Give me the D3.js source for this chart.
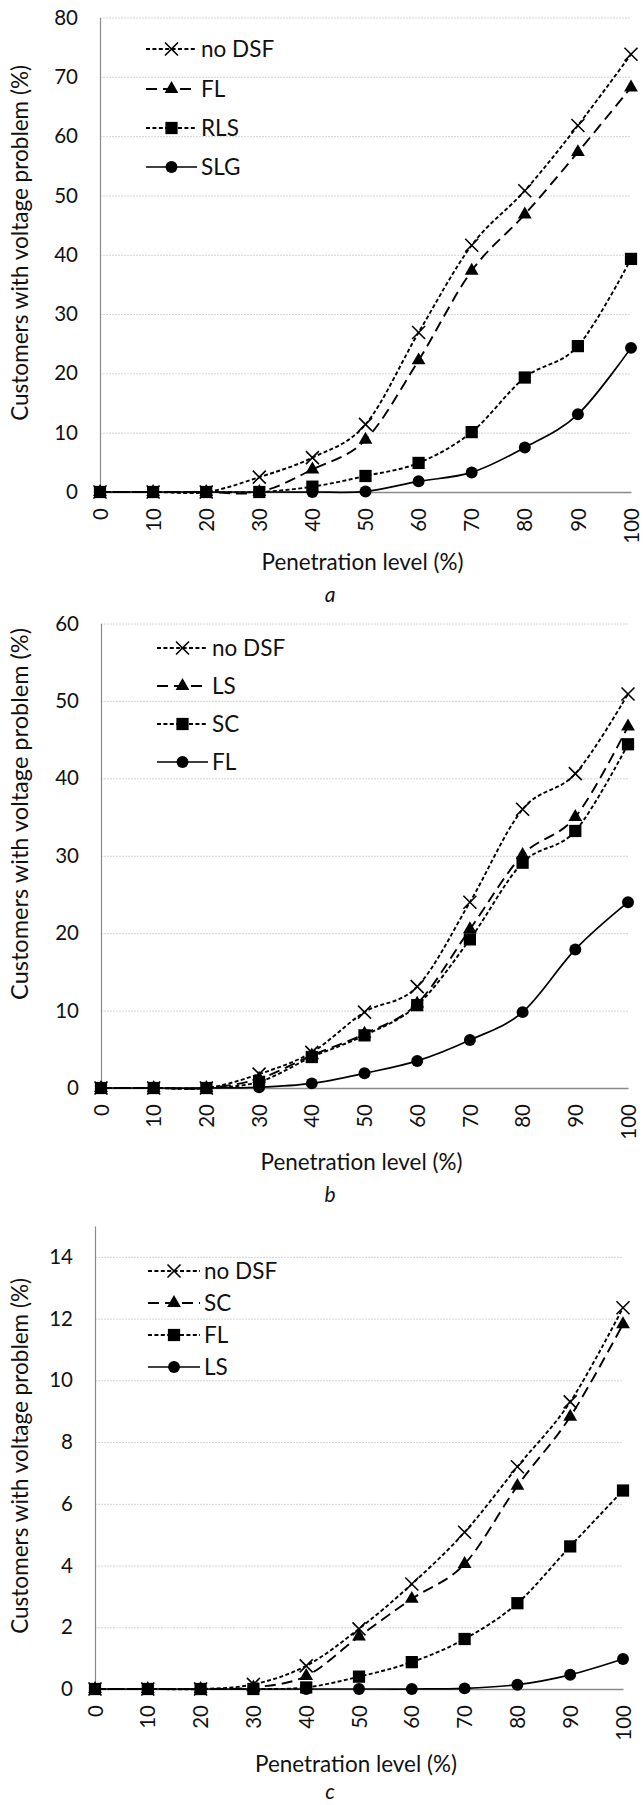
<!DOCTYPE html>
<html>
<head>
<meta charset="utf-8">
<script src="https://cdn.jsdelivr.net/npm/d3@7"></script>
<style>
  body { margin: 0; background: #fff; }
  svg { display: block; font-family: Lato, "Open Sans", sans-serif; }
</style>
</head>
<body>
<svg id="chart" width="643" height="1805"></svg>
<script>
// penetration level (%), shared x categories of all three panels
var levels = [0, 10, 20, 30, 40, 50, 60, 70, 80, 90, 100];

// panel a
var a_names  = ['no DSF', 'FL', 'RLS', 'SLG'];
var a_no_dsf = [0, 0, 0, 2.5, 5.8, 11.4, 26.9, 41.6, 50.8, 61.8, 73.8];
var a_fl     = [0, 0, 0, 0, 3.8, 8.8, 22.2, 37.3, 46.8, 57.3, 68.2];
var a_rls    = [0, 0, 0, 0, 0.9, 2.7, 4.9, 10.1, 19.3, 24.6, 39.3];
var a_slg    = [0, 0, 0, 0, 0, 0.1, 1.8, 3.3, 7.5, 13.1, 24.3];
var a_ticks  = [0, 10, 20, 30, 40, 50, 60, 70, 80];

// panel b
var b_names  = ['no DSF', 'LS', 'SC', 'FL'];
var b_no_dsf = [0, 0, 0, 1.8, 4.6, 9.8, 13.1, 24.0, 36.0, 40.6, 50.9];
var b_ls     = [0, 0, 0, 1.2, 4.2, 7.0, 10.9, 20.5, 30.1, 35.0, 46.7];
var b_sc     = [0, 0, 0, 0.8, 4.0, 6.8, 10.7, 19.2, 29.1, 33.2, 44.4];
var b_fl     = [0, 0, 0, 0.1, 0.6, 1.9, 3.5, 6.2, 9.8, 17.9, 24.0];
var b_ticks  = [0, 10, 20, 30, 40, 50, 60];

// panel c
var c_names  = ['no DSF', 'SC', 'FL', 'LS'];
var c_no_dsf = [0, 0, 0, 0.15, 0.75, 1.95, 3.4, 5.08, 7.2, 9.3, 12.35];
var c_sc     = [0, 0, 0, 0.05, 0.42, 1.7, 2.92, 4.05, 6.58, 8.82, 11.82];
var c_fl     = [0, 0, 0, 0, 0.05, 0.4, 0.87, 1.62, 2.78, 4.62, 6.43];
var c_ls     = [0, 0, 0, 0, 0, 0, 0, 0.02, 0.14, 0.46, 0.97];
var c_ticks  = [0, 2, 4, 6, 8, 10, 12, 14];

var y_title = 'Customers with voltage problem (%)';
var x_title = 'Penetration level (%)';

// one style per series position: x, triangle, square, circle
var series_styles = [
  { marker: 'x',        dash: '4,2.4', width: 1.9 },
  { marker: 'triangle', dash: '11,6',  width: 1.9 },
  { marker: 'square',   dash: '4,2.4', width: 1.9 },
  { marker: 'circle',   dash: null,    width: 1.7 }
];

var svg = d3.select('#chart');

var marker_draw = (g, kind, cx, cy) => {
  if (kind === 'x') {
    g.append('path')
      .attr('d', `M${cx-6.5},${cy-6.5}L${cx+6.5},${cy+6.5}M${cx-6.5},${cy+6.5}L${cx+6.5},${cy-6.5}`)
      .attr('stroke', '#000')
      .attr('stroke-width', 1.6)
      .attr('fill', 'none');
    return;
  }

  var sym = {
    triangle: d3.symbol(d3.symbolTriangle, 82),
    square:   d3.symbol(d3.symbolSquare, 150),
    circle:   d3.symbol(d3.symbolCircle, 112)
  }[kind];

  g.append('path')
    .attr('d', sym())
    .attr('transform', `translate(${cx}, ${cy})`)
    .attr('fill', '#000');
};

// scale a text's font so that its advance matches the length measured on the reference
var fit_length = (t, size, len) => {
  t.attr('font-size', size);
  var w = t.node().getComputedTextLength();
  if (w > 0) t.attr('font-size', size * len / w);
};

var panel_draw = (o) => {
  var gph = svg.append('g').attr('class', 'panel');

  var x = d3.scalePoint()
    .domain(levels)
    .range([o.left, o.right]);

  var y = d3.scaleLinear()
    .domain([0, o.y_max])
    .range([o.bottom, o.top]);

  // gridlines
  gph.append('g')
    .attr('transform', `translate(${o.left}, 0)`)
    .call(d3.axisLeft(y).tickValues(o.ticks.filter((t) => t > 0)).tickSize(-(o.right - o.left)).tickFormat(''))
    .call((g) => g.select('.domain').remove())
    .call((g) => g.selectAll('line')
      .attr('stroke', '#d4d4d4')
      .attr('stroke-width', 1)
      .attr('stroke-dasharray', '2,1'));

  // y axis
  gph.append('g')
    .attr('transform', `translate(${o.left}, 0)`)
    .call(d3.axisLeft(y).tickValues(o.ticks).tickSize(0).tickSizeOuter(0).tickPadding(22))
    .call((g) => g.select('.domain').attr('stroke', '#8a8a8a').attr('stroke-width', 1.2))
    .call((g) => g.selectAll('text')
      .attr('fill', '#111')
      .attr('font-size', 20.5)
      .attr('font-family', 'Lato, sans-serif'));

  // x axis
  gph.append('g')
    .attr('transform', `translate(0, ${o.bottom})`)
    .call(d3.axisBottom(x).tickSize(0).tickSizeOuter(0))
    .call((g) => g.select('.domain').attr('stroke', '#8a8a8a').attr('stroke-width', 1.6))
    .call((g) => g.selectAll('text')
      .attr('transform', 'rotate(-90)')
      .attr('x', -16)
      .attr('y', 0)
      .attr('dy', '0.35em')
      .attr('text-anchor', 'end')
      .attr('fill', '#111')
      .attr('font-size', 20.5)
      .attr('font-family', 'Lato, sans-serif'));

  var line = d3.line()
    .x((d, i) => x(levels[i]))
    .y((d) => y(d))
    .curve(d3.curveCardinal.tension(0));

  o.sources.forEach((s, k) => {
    var st = series_styles[k];
    var sg = gph.append('g').attr('class', 'series');

    sg.append('path')
      .attr('d', line(s))
      .attr('fill', 'none')
      .attr('stroke', '#000')
      .attr('stroke-width', st.width)
      .attr('stroke-dasharray', st.dash);

    s.forEach((d, i) => marker_draw(sg, st.marker, x(levels[i]), y(d)));
  });

  // legend
  var lg = gph.append('g').attr('class', 'legend');
  o.names.forEach((name, k) => {
    var st = series_styles[k];
    var ly = o.legend.y[k];

    lg.append('line')
      .attr('x1', o.legend.x0)
      .attr('x2', o.legend.x1)
      .attr('y1', ly)
      .attr('y2', ly)
      .attr('stroke', '#000')
      .attr('stroke-width', st.width)
      .attr('stroke-dasharray', st.dash);

    marker_draw(lg, st.marker, (o.legend.x0 + o.legend.x1) / 2, ly);

    lg.append('text')
      .attr('x', o.legend.x1 + 4)
      .attr('y', ly)
      .attr('dy', '0.35em')
      .attr('font-size', 22.5)
      .attr('fill', '#111')
      .text(name);
  });

  // axis titles
  var yt = gph.append('text')
    .attr('transform', `translate(${o.y_title_x}, ${o.y_title_top}) rotate(-90)`)
    .attr('text-anchor', 'end')
    .attr('dy', '0.35em')
    .attr('fill', '#111')
    .text(y_title);
  fit_length(yt, 22.5, o.y_title_len);

  var xt = gph.append('text')
    .attr('x', (o.left + o.right) / 2 - 3)
    .attr('y', o.x_title_y)
    .attr('dy', '0.35em')
    .attr('text-anchor', 'middle')
    .attr('fill', '#111')
    .text(x_title);
  fit_length(xt, 22.5, 202);

  gph.append('text')
    .attr('x', 330)
    .attr('y', o.letter_y)
    .attr('dy', '0.35em')
    .attr('text-anchor', 'middle')
    .attr('font-size', 21)
    .attr('font-style', 'italic')
    .attr('fill', '#111')
    .text(o.letter);
};

panel_draw({
  sources: [a_no_dsf, a_fl, a_rls, a_slg],
  names: a_names,
  ticks: a_ticks,
  y_max: 80,
  left: 100, right: 631, top: 17.5, bottom: 492,
  legend: { x0: 146, x1: 197, y: [49, 89, 128, 167] },
  y_title_x: 20, y_title_top: 65, y_title_len: 356,
  x_title_y: 562,
  letter: 'a', letter_y: 595
});

panel_draw({
  sources: [b_no_dsf, b_ls, b_sc, b_fl],
  names: b_names,
  ticks: b_ticks,
  y_max: 60,
  left: 101, right: 628, top: 623.5, bottom: 1088,
  legend: { x0: 157, x1: 208, y: [648, 686, 724, 762] },
  y_title_x: 20, y_title_top: 628, y_title_len: 372,
  x_title_y: 1162,
  letter: 'b', letter_y: 1195
});

panel_draw({
  sources: [c_no_dsf, c_sc, c_fl, c_ls],
  names: c_names,
  ticks: c_ticks,
  y_max: 15,
  left: 95, right: 623, top: 1226, bottom: 1689,
  legend: { x0: 148, x1: 200, y: [1271, 1303, 1335, 1367] },
  y_title_x: 20, y_title_top: 1278, y_title_len: 356,
  x_title_y: 1764,
  letter: 'c', letter_y: 1792
});
</script>
</body>
</html>
